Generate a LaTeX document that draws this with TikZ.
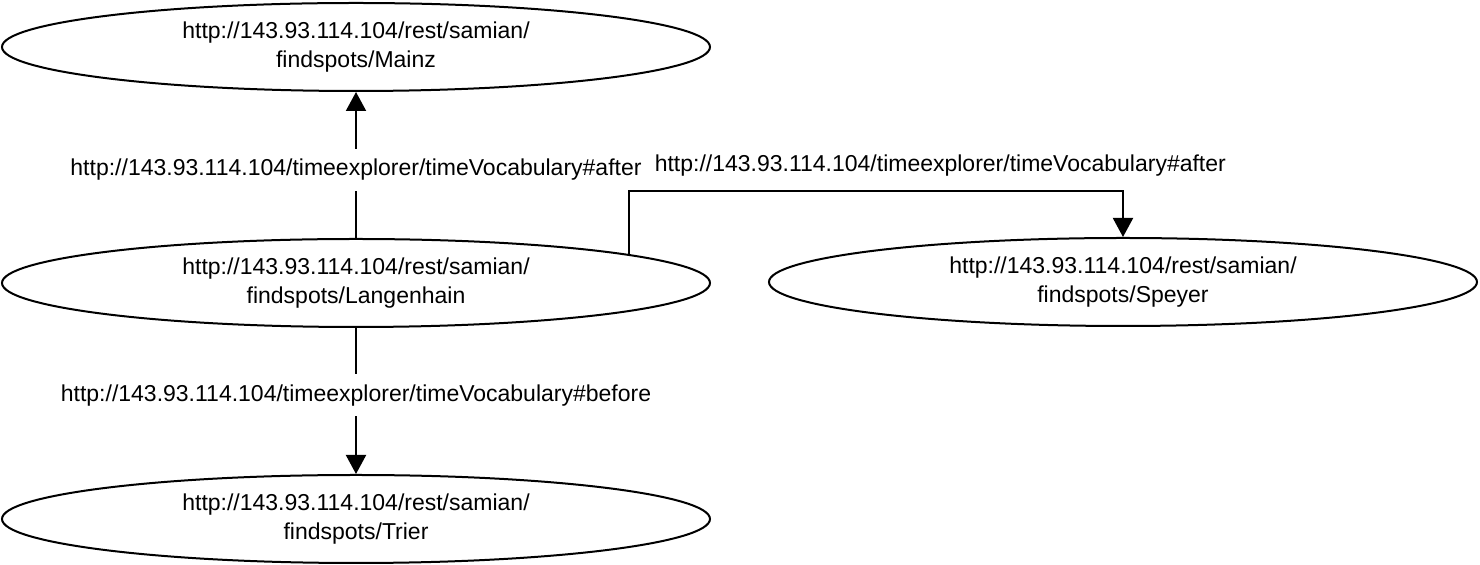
\documentclass[tikz,border=0pt]{standalone}
\usepackage{fontspec}
\setmainfont{Liberation Sans}
\usetikzlibrary{positioning, shapes.geometric, arrows.meta}

\begin{document}
\begin{tikzpicture}[x=0.5pt, y=-0.5pt, line width=1pt,
  >={Triangle[length=9.5pt,width=10pt]},
  place/.style={draw, ellipse, minimum width=354pt, minimum height=44pt,
    inner sep=0pt, align=center, font=\fontsize{11.5}{14.5}\selectfont},
  rel/.style={fill=white, inner sep=5pt, font=\fontsize{11.5}{14.5}\selectfont}]

\useasboundingbox (0,0) rectangle (1480,565);

\node[place] (mainz) at (356,47) {http://143.93.114.104/rest/samian/\\findspots/Mainz};
\node[place] (langen) at (356,283) {http://143.93.114.104/rest/samian/\\findspots/Langenhain};
\node[place] (speyer) at (1123,282) {http://143.93.114.104/rest/samian/\\findspots/Speyer};
\node[place] (trier) at (356,519) {http://143.93.114.104/rest/samian/\\findspots/Trier};

\draw[->] (langen) -- node[rel, pos=0.466] {http://143.93.114.104/timeexplorer/timeVocabulary\#after} (mainz);

\coordinate (bend) at (1123,191);
\draw[->] (langen.6) |- node[rel, pos=0.815, above=7pt, inner sep=0pt, fill=none] {http://143.93.114.104/timeexplorer/timeVocabulary\#after} (bend) -- (speyer.north);

\draw[->] (langen) -- node[rel, pos=0.46] {http://143.93.114.104/timeexplorer/timeVocabulary\#before} (trier);

\end{tikzpicture}
\end{document}
